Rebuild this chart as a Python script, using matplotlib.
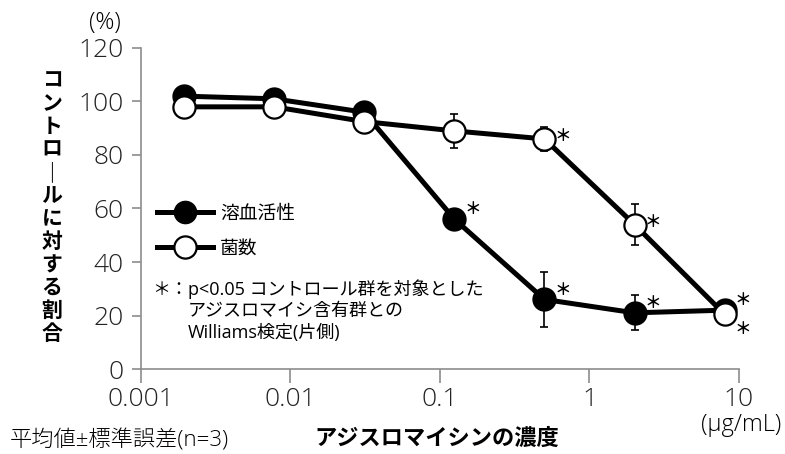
import numpy as np
import matplotlib
matplotlib.use("Agg")
from matplotlib import pyplot as plt
from matplotlib.lines import Line2D

# latin glyphs from Open Sans, japanese ones fall through to Noto CJK
plt.rcParams['font.family'] = ['Open Sans', 'Noto Sans CJK JP', 'DejaVu Sans']
JP = ['Noto Sans CJK JP', 'DejaVu Sans']

# Data
conc = [0.00195, 0.0078, 0.031, 0.125, 0.5, 2, 8]
hemolysis = [102, 101, 96, 56, 26, 21, 22]
hemolysis_err = [0.8, 0.8, 0.8, 1.0, 10.4, 6.5, 3.0]
hemolysis_sig = [False, False, False, True, True, True, True]
cfu = [98, 98, 92.5, 89, 86, 54, 20.5]
cfu_err = [1.0, 1.0, 1.0, 6.4, 4.5, 7.6, 4.0]
cfu_sig = [False, False, False, False, True, True, True]

xticks = [0.001, 0.01, 0.1, 1, 10]
xticklabels = ['0.001', '0.01', '0.1', '1', '10']
yticks = [0, 20, 40, 60, 80, 100, 120]

series_names = ['溶血活性', '菌数']
ylabel_text = 'コントロールに対する割合'
note_lines = ['p<0.05 コントロール群を対象とした', 'アジスロマイシ含有群との', 'Williams検定(片側)']

fig = plt.figure(figsize=(7.85, 4.54), dpi=100)
ax = fig.add_axes([0.1796, 0.1872, 0.7618, 0.7071])

grey = '#8c8c8c'

# error bars behind markers
ax.errorbar(conc, hemolysis, yerr=hemolysis_err, fmt='none', ecolor='black',
            elinewidth=1.2, capsize=3, capthick=1.2, zorder=2)
ax.errorbar(conc, cfu, yerr=cfu_err, fmt='none', ecolor='black',
            elinewidth=1.2, capsize=3, capthick=1.2, zorder=2)

ax.plot(conc, hemolysis, color='black', lw=3.6, marker='o', ms=16,
        mfc='black', mec='black', mew=1.5, zorder=3)
ax.plot(conc, cfu, color='black', lw=3.6, marker='o', ms=16,
        mfc='white', mec='black', mew=1.6, zorder=4)

# significance marks
for x, y, s in zip(conc, hemolysis, hemolysis_sig):
    if s:
        ax.annotate('＊', (x, y), xytext=(13, 7), textcoords='offset points',
                    ha='center', va='center', fontsize=12, fontweight='bold',
                    family=JP, zorder=5)
for i, (x, y, s) in enumerate(zip(conc, cfu, cfu_sig)):
    if s:
        dy = -11 if i == len(conc) - 1 else 2
        ax.annotate('＊', (x, y), xytext=(13, dy), textcoords='offset points',
                    ha='center', va='center', fontsize=12, fontweight='bold',
                    family=JP, zorder=5)

ax.set_xscale('log')
ax.set_xlim(0.001, 10)
ax.set_ylim(0, 120)
ax.set_xticks(xticks)
ax.set_xticklabels(xticklabels)
ax.xaxis.set_minor_locator(matplotlib.ticker.NullLocator())
ax.set_yticks(yticks)

for side in ['top', 'right']:
    ax.spines[side].set_visible(False)
for side in ['left', 'bottom']:
    ax.spines[side].set_color(grey)
    ax.spines[side].set_linewidth(1.2)
ax.tick_params(axis='y', direction='out', length=6.5, width=1.2, color=grey,
               pad=6, labelsize=19)
ax.tick_params(axis='x', direction='out', length=10, width=1.2, color=grey,
               pad=3, labelsize=19)
for lab in ax.get_xticklabels() + ax.get_yticklabels():
    lab.set_fontweight('light')
    lab.set_color('#222222')

# y label written vertically with upright characters
ylabel_vert = '\n'.join(ylabel_text.replace('ー', '｜'))
fig.text(52 / 785, 1 - 207 / 454, ylabel_vert, fontsize=15, fontweight='bold',
         family=JP, ha='center', va='center', linespacing=1.12)

# legend
handles = [
    Line2D([], [], color='black', lw=3.6, marker='o', ms=16, mfc='black', mec='black'),
    Line2D([], [], color='black', lw=3.6, marker='o', ms=16, mfc='white', mec='black', mew=1.6),
]
ax.legend(handles, series_names, loc='center left', bbox_to_anchor=(0.005, 0.43),
          frameon=False, prop={'family': JP, 'size': 13.5}, handlelength=3.0,
          labelspacing=0.75, handletextpad=0.35, borderaxespad=0.3)

# note block
fig.text(152 / 785, 1 - 290 / 454, '＊：', fontsize=13, family=JP,
         ha='left', va='center')
fig.text(188 / 785, 1 - 279 / 454, '\n'.join(note_lines), fontsize=13,
         ha='left', va='top', linespacing=1.25)

fig.text(105 / 785, 1 - 23 / 454, '(%)', fontsize=17, ha='center', va='center',
         fontweight='light')
fig.text(741 / 785, 1 - 425 / 454, '(μg/mL)', fontsize=17, ha='center', va='center',
         fontweight='light')
fig.text(10 / 785, 1 - 440 / 454, '平均値±標準誤差(n=3)', fontsize=16, ha='left',
         va='center', fontweight='light')
fig.text(437 / 785, 1 - 438 / 454, 'アジスロマイシンの濃度', fontsize=16, ha='center',
         va='center', fontweight='bold', family=JP)

fig.savefig('out.png', dpi=100)
